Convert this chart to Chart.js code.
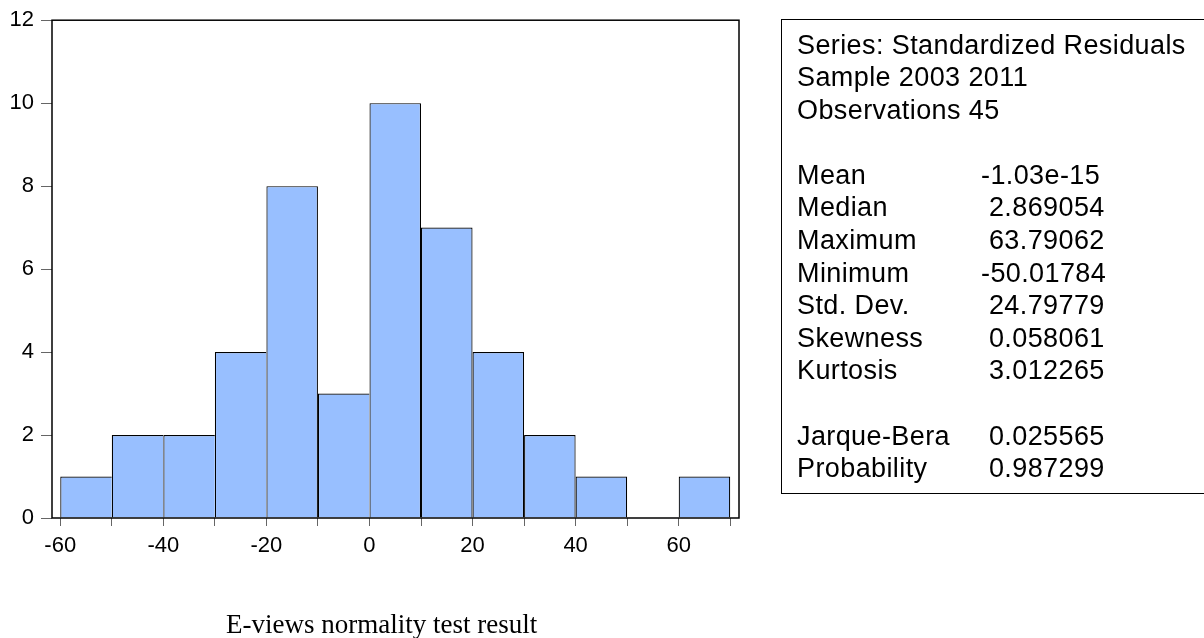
<!DOCTYPE html>
<html>
<head>
<meta charset="utf-8">
<script src="https://cdn.jsdelivr.net/npm/chart.js"></script>
<style>
  body { margin: 0; width: 1204px; height: 638px; background: #fff; position: relative; overflow: hidden; }
  #hist { position: absolute; left: 0; top: 0; }
  #stats {
    position: absolute; left: 781px; top: 19px; width: 460px;
    border: 1px solid #000; padding: 8.5px 0 8px 15px;
    font-family: "Liberation Sans", Arial, sans-serif; font-size: 27px; letter-spacing: 0.4px;
    line-height: 32.6px; color: #000; white-space: pre;
  }
  #stats .lbl { display: inline-block; width: 184px; }
  #caption {
    position: absolute; left: 226px; top: 609px;
    font-family: "Liberation Serif", "Times New Roman", serif; font-size: 27px; color: #000;
  }
</style>
</head>
<body>
<canvas id="hist" width="1204" height="638"></canvas>
<div id="stats"></div>
<div id="caption">E-views normality test result</div>

<script>
// --- Datos ---
const binCenters = [-55, -45, -35, -25, -15, -5, 5, 15, 25, 35, 45, 55, 65];
const counts = [1, 2, 2, 4, 8, 3, 10, 7, 4, 2, 1, 0, 1];
const xTicks = [-60, -50, -40, -30, -20, -10, 0, 10, 20, 30, 40, 50, 60, 70];
const yTicks = [0, 2, 4, 6, 8, 10, 12];

const infoHeader = ["Series: Standardized Residuals", "Sample 2003 2011", "Observations 45"];
const statNames = ["Mean", "Median", "Maximum", "Minimum", "Std. Dev.", "Skewness", "Kurtosis"];
const statValues = ["-1.03e-15", " 2.869054", " 63.79062", "-50.01784", " 24.79779", " 0.058061", " 3.012265"];
const testNames = ["Jarque-Bera", "Probability"];
const testValues = [" 0.025565", " 0.987299"];

// --- Cuadro de estadísticos ---
const stats = document.getElementById("stats");
let html = infoHeader.map(t => `<div>${t}</div>`).join("") + "<div> </div>";
statNames.forEach((n, i) => {
  html += `<div><span class="lbl">${n}</span>${statValues[i]}</div>`;
});
html += "<div> </div>";
testNames.forEach((n, i) => {
  html += `<div><span class="lbl">${n}</span>${testValues[i]}</div>`;
});
stats.innerHTML = html;

// --- Marco del área del gráfico ---
const marco = {
  id: "marco",
  afterDatasetsDraw(chart) {
    const { ctx, chartArea: a } = chart;
    ctx.save();
    ctx.strokeStyle = "#000";
    ctx.lineWidth = 1.5;
    ctx.strokeRect(a.left, a.top, a.right - a.left, a.bottom - a.top);
    ctx.restore();
  }
};

const fuente = { family: "'Liberation Sans', Arial, sans-serif", size: 22 };

new Chart(document.getElementById("hist"), {
  type: "bar",
  data: {
    datasets: [{
      data: binCenters.map((x, i) => ({ x, y: counts[i] })),
      backgroundColor: "#98BFFF",
      borderColor: "#000",
      borderSkipped: false,
      borderWidth: ctx => {
        const i = ctx.dataIndex;
        const last = i === counts.length - 1;
        return { top: 1.2, left: 1.2, bottom: 0, right: (last || counts[i + 1] < counts[i]) ? 1.2 : 0 };
      },
      barPercentage: 1,
      categoryPercentage: 1,
      inflateAmount: 0
    }]
  },
  plugins: [marco],
  options: {
    responsive: false,
    animation: false,
    layout: { padding: { top: 19, right: 465, bottom: 0, left: 0 } },
    plugins: { legend: { display: false }, tooltip: { enabled: false } },
    scales: {
      x: {
        type: "linear",
        min: -61.6,
        max: 71.7,
        offset: false,
        afterBuildTicks: s => { s.ticks = xTicks.map(v => ({ value: v })); },
        afterFit: s => { s.height = 120; },
        border: { display: false },
        grid: { offset: false, drawOnChartArea: false, drawTicks: true, tickLength: 8, color: "#666", lineWidth: 1 },
        ticks: {
          color: "#000",
          font: fuente,
          padding: 7,
          maxRotation: 0,
          autoSkip: false,
          callback: v => (v % 20 === 0 ? String(v) : "")
        }
      },
      y: {
        min: 0,
        max: 12,
        afterBuildTicks: s => { s.ticks = yTicks.map(v => ({ value: v })); },
        afterFit: s => { s.width = 52; },
        border: { display: false },
        grid: { drawOnChartArea: false, drawTicks: true, tickLength: 11, color: "#666", lineWidth: 1 },
        ticks: { color: "#000", font: fuente, padding: 7 }
      }
    }
  }
});
</script>
</body>
</html>
